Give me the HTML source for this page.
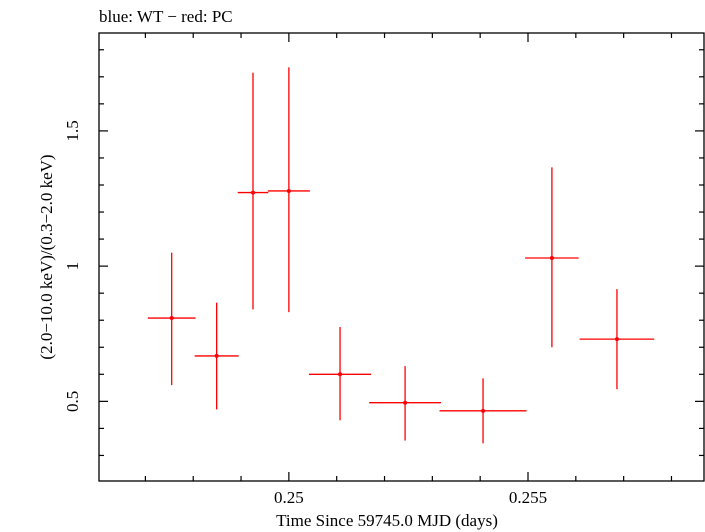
<!DOCTYPE html>
<html><head><meta charset="utf-8"><style>
html,body{margin:0;padding:0;background:#fff}
svg{display:block;font-family:"Liberation Serif",serif}
</style></head><body>
<svg id="chart" width="705" height="532" viewBox="0 0 705 532">
<text x="99" y="22" font-size="17">blue: WT − red: PC</text>
<rect x="99" y="33" width="605" height="448" fill="none" stroke="#000" stroke-width="1.3"/>
<g id="axes"></g>
<g id="series"></g>
<text x="387" y="526" font-size="17" text-anchor="middle">Time Since 59745.0 MJD (days)</text>
<text transform="translate(52,257) rotate(-90)" font-size="17" text-anchor="middle">(2.0−10.0 keV)/(0.3−2.0 keV)</text>
</svg>
<script>
const xCenters=[0.24755,0.24849,0.24925,0.25,0.25107,0.25243,0.25406,0.2555,0.25686];
const xHalfWidths=[0.0005,0.00046,0.00032,0.00044,0.00065,0.00075,0.00091,0.00056,0.00078];
const yValues=[0.808,0.668,1.272,1.278,0.60,0.495,0.465,1.03,0.73];
const yLow=[0.56,0.47,0.84,0.83,0.43,0.355,0.345,0.70,0.545];
const yHigh=[1.05,0.865,1.715,1.735,0.775,0.63,0.585,1.365,0.915];
const xTickLabels=["0.25","0.255"];
const xTickValues=[0.25,0.255];
const yTickLabels=["0.5","1","1.5"];
const yTickValues=[0.5,1,1.5];
const X0=99,X1=704,Y0=481,Y1=33;
const xMin=0.24603,xMax=0.25868,yMin=0.2055,yMax=1.862;
const sx=v=>X0+(v-xMin)/(xMax-xMin)*(X1-X0);
const sy=v=>Y0-(v-yMin)/(yMax-yMin)*(Y0-Y1);
const NS="http://www.w3.org/2000/svg";
function mk(tag,attrs,parent){const e=document.createElementNS(NS,tag);for(const k in attrs)e.setAttribute(k,attrs[k]);parent.appendChild(e);return e;}
const axes=document.getElementById('axes');
for(let i=-4;i<=9;i++){const v=0.25+i*0.001;const x=sx(v);if(x<X0+1||x>X1-1)continue;const major=(i%5===0);const L=major?9:5;
 const t=mk('line',{x1:x,y1:Y0,x2:x,y2:Y0-L,stroke:'#000','stroke-width':1.2},axes);
 
 
 const t2=mk('line',{x1:x,y1:Y1,x2:x,y2:Y1+L,stroke:'#000','stroke-width':1.2},axes);
 
 }
for(let i=2;i<=18;i++){const v=i*0.1;const y=sy(v);if(y<Y1+1||y>Y0-1)continue;const major=(i%5===0);const L=major?9:5;
 const t=mk('line',{x1:X0,y1:y,x2:X0+L,y2:y,stroke:'#000','stroke-width':1.2},axes);
 
 
 const t2=mk('line',{x1:X1,y1:y,x2:X1-L,y2:y,stroke:'#000','stroke-width':1.2},axes);
 
 }
xTickValues.forEach((v,i)=>{const t=mk('text',{x:sx(v),y:503,'font-size':17,'text-anchor':'middle'},axes);t.textContent=xTickLabels[i];
 
 });
yTickValues.forEach((v,i)=>{const y=sy(v);const t=mk('text',{transform:`translate(78,${y}) rotate(-90)`,'font-size':17,'text-anchor':'middle'},axes);t.textContent=yTickLabels[i];
 
 });
const series=document.getElementById('series');
xCenters.forEach((xc,i)=>{const g=mk('g',{},series);
 
 
 mk('line',{x1:sx(xc-xHalfWidths[i]),y1:sy(yValues[i]),x2:sx(xc+xHalfWidths[i]),y2:sy(yValues[i]),stroke:'#f00','stroke-width':1.3},g);
 mk('line',{x1:sx(xc),y1:sy(yLow[i]),x2:sx(xc),y2:sy(yHigh[i]),stroke:'#f00','stroke-width':1.3},g);
 mk('circle',{cx:sx(xc),cy:sy(yValues[i]),r:2,fill:'#f00'},g);});
</script>
</body></html>
